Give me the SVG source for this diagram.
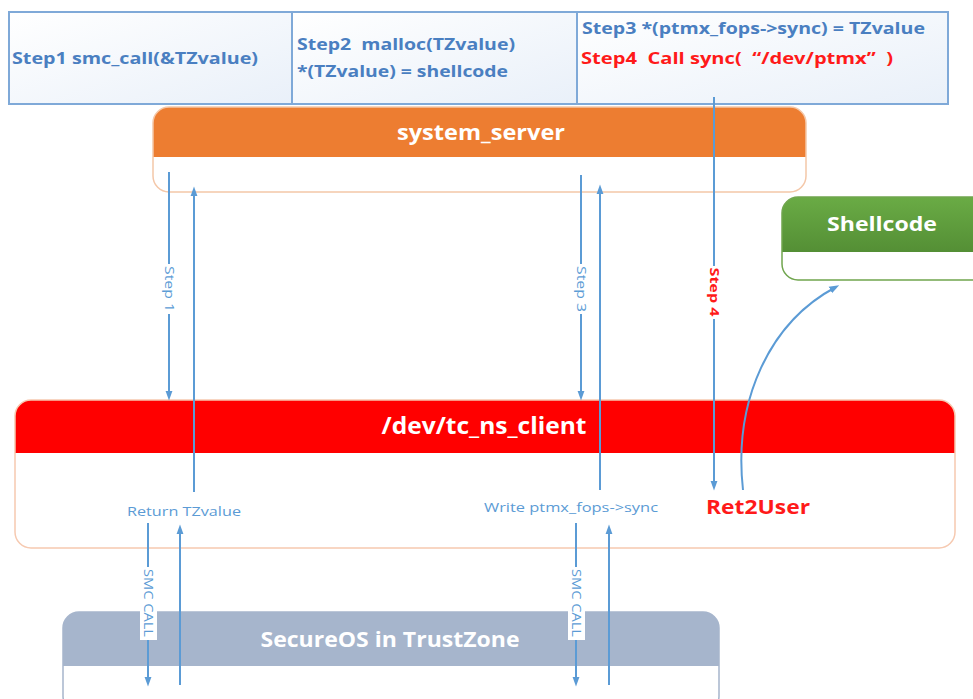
<svg xmlns="http://www.w3.org/2000/svg" width="973" height="699" viewBox="0 0 973 699">
<defs>
<style>
text{font-family:"Open Sans","Liberation Sans",sans-serif;white-space:pre;}
.step{fill:url(#stepfill);stroke:#7fa9d8;stroke-width:2;}
.st{font-size:16px;font-weight:bold;fill:#4a7fc1;}
.red{fill:#ff1a1a;}
.head{font-weight:bold;fill:#ffffff;text-anchor:middle;}
.line{stroke:#5b9bd5;stroke-width:2;fill:none;}
.lbl{font-size:12px;fill:#5b9bd5;text-anchor:middle;}
</style>
<linearGradient id="stepfill" x1="0" y1="0" x2="1" y2="1">
<stop offset="0" stop-color="#ffffff"/>
<stop offset="1" stop-color="#e9f0f9"/>
</linearGradient>
<linearGradient id="green" x1="0" y1="0" x2="0" y2="1">
<stop offset="0" stop-color="#6aab45"/>
<stop offset="1" stop-color="#548f35"/>
</linearGradient>
<marker id="arr" markerWidth="10" markerHeight="14" refX="9" refY="5" orient="auto" markerUnits="userSpaceOnUse" viewBox="0 0 14 10">
<path d="M0,0 L14,5 L0,10 z" fill="#5b9bd5"/>
</marker>
<clipPath id="cSys"><rect x="153" y="107" width="653" height="85" rx="16"/></clipPath>
<clipPath id="cShell"><rect x="782" y="197" width="210" height="83" rx="16"/></clipPath>
<clipPath id="cTc"><rect x="15" y="400" width="940" height="148" rx="16"/></clipPath>
<clipPath id="cSec"><rect x="63" y="612" width="656" height="100" rx="16"/></clipPath>
</defs>

<g id="steps">
<rect class="step" x="9" y="12" width="283" height="92"/>
<rect class="step" x="292" y="12" width="285" height="92"/>
<rect class="step" x="577" y="12" width="371" height="92"/>
<text class="st" x="12" y="64" textLength="246" lengthAdjust="spacingAndGlyphs">Step1 smc_call(&amp;TZvalue)</text>
<text class="st" x="297" y="50" textLength="218" lengthAdjust="spacingAndGlyphs">Step2  malloc(TZvalue)</text>
<text class="st" x="297" y="77" textLength="211" lengthAdjust="spacingAndGlyphs">*(TZvalue) = shellcode</text>
<text class="st" x="582" y="34" textLength="343" lengthAdjust="spacingAndGlyphs">Step3 *(ptmx_fops-&gt;sync) = TZvalue</text>
<text class="st red" x="581" y="64" textLength="312" lengthAdjust="spacingAndGlyphs">Step4  Call sync(  “/dev/ptmx”  )</text>
</g>

<g id="system_server">
<g clip-path="url(#cSys)">
<rect x="153" y="107" width="653" height="85" fill="#ffffff"/>
<rect x="153" y="107" width="653" height="50" fill="#ed7d31"/>
</g>
<rect x="153" y="107" width="653" height="85" rx="16" fill="none" stroke="#f4c7a8" stroke-width="1.5"/>
<text class="head" x="481" y="140" font-size="21" textLength="168" lengthAdjust="spacingAndGlyphs">system_server</text>
</g>

<g id="shellcode">
<g clip-path="url(#cShell)">
<rect x="782" y="197" width="210" height="83" fill="#ffffff"/>
<rect x="782" y="197" width="210" height="55" fill="url(#green)"/>
</g>
<rect x="782" y="197" width="210" height="83" rx="16" fill="none" stroke="#70a54e" stroke-width="1.5"/>
<text class="head" x="882" y="231" font-size="20" textLength="110" lengthAdjust="spacingAndGlyphs">Shellcode</text>
</g>

<g id="tc_ns_client">
<g clip-path="url(#cTc)">
<rect x="15" y="400" width="940" height="148" fill="#ffffff"/>
<rect x="15" y="400" width="940" height="53" fill="#ff0000"/>
</g>
<rect x="15" y="400" width="940" height="148" rx="16" fill="none" stroke="#f6c9b0" stroke-width="1.5"/>
<text class="head" x="484" y="434" font-size="24" textLength="205" lengthAdjust="spacingAndGlyphs">/dev/tc_ns_client</text>
</g>

<g id="secureos">
<g clip-path="url(#cSec)">
<rect x="63" y="612" width="656" height="100" fill="#ffffff"/>
<rect x="63" y="612" width="656" height="54" fill="#a6b5cc"/>
</g>
<rect x="63" y="612" width="656" height="100" rx="16" fill="none" stroke="#a6b5cc" stroke-width="1.5"/>
<text class="head" x="390" y="647" font-size="21" textLength="259" lengthAdjust="spacingAndGlyphs">SecureOS in TrustZone</text>
</g>

<g id="connectors">
<line class="line" x1="169" y1="172" x2="169" y2="397" marker-end="url(#arr)"/>
<line class="line" x1="194" y1="492" x2="194" y2="190" marker-end="url(#arr)"/>
<line class="line" x1="581" y1="175" x2="581" y2="397" marker-end="url(#arr)"/>
<line class="line" x1="600" y1="490" x2="600" y2="188" marker-end="url(#arr)"/>
<line class="line" x1="714" y1="97" x2="714" y2="487" marker-end="url(#arr)"/>
<path class="line" d="M743,490 C733,400 770,322 836,287" marker-end="url(#arr)"/>
<line class="line" x1="148" y1="523" x2="148" y2="683" marker-end="url(#arr)"/>
<line class="line" x1="180" y1="685" x2="180" y2="528" marker-end="url(#arr)"/>
<line class="line" x1="576" y1="523" x2="576" y2="683" marker-end="url(#arr)"/>
<line class="line" x1="609" y1="685" x2="609" y2="528" marker-end="url(#arr)"/>

<rect x="162" y="264" width="14" height="50" fill="#ffffff"/>
<text class="lbl" transform="translate(165,289) rotate(90)" textLength="46" lengthAdjust="spacingAndGlyphs">Step 1</text>
<rect x="574" y="264" width="14" height="50" fill="#ffffff"/>
<text class="lbl" transform="translate(577,289) rotate(90)" textLength="46" lengthAdjust="spacingAndGlyphs">Step 3</text>
<rect x="707" y="266" width="14" height="53" fill="#ffffff"/>
<text class="lbl" transform="translate(710,292) rotate(90)" style="fill:#ff1a1a;font-weight:bold" textLength="49" lengthAdjust="spacingAndGlyphs">Step 4</text>

<text class="lbl" x="184" y="516" font-size="13" textLength="114" lengthAdjust="spacingAndGlyphs">Return TZvalue</text>
<text class="lbl" x="571" y="512" font-size="13" textLength="174" lengthAdjust="spacingAndGlyphs">Write ptmx_fops-&gt;sync</text>
<text x="758" y="514" font-size="20" font-weight="bold" fill="#ff1a1a" text-anchor="middle" textLength="104" lengthAdjust="spacingAndGlyphs">Ret2User</text>

<rect x="140" y="567" width="17" height="73" fill="#ffffff"/>
<text transform="translate(144,603) rotate(90)" font-size="13" fill="#5b9bd5" text-anchor="middle" textLength="68" lengthAdjust="spacingAndGlyphs">SMC CALL</text>
<rect x="568" y="567" width="17" height="73" fill="#ffffff"/>
<text transform="translate(572,603) rotate(90)" font-size="13" fill="#5b9bd5" text-anchor="middle" textLength="68" lengthAdjust="spacingAndGlyphs">SMC CALL</text>
</g>
</svg>
